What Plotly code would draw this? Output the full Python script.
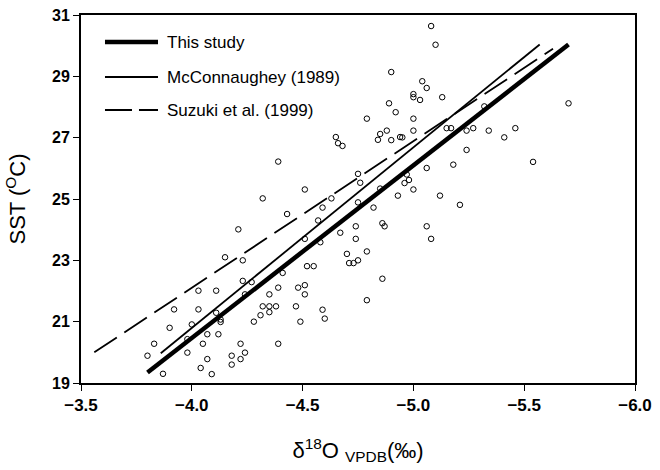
import plotly.graph_objects as go

# Observed δ18O (VPDB, ‰) and SST (°C) data points
d18o_obs = [
    -4.32, -4.21, -4.15, -4.23, -4.23, -4.27, -4.03, -4.11, -4.24, -4.35,
    -3.92, -4.03, -4.11, -4.32, -4.35, -4.38, -4.35, -4.31, -4.28, -3.90,
    -4.00, -4.13, -4.13, -4.07, -4.12, -3.98, -3.83, -4.05, -4.22, -3.80,
    -3.98, -4.07, -4.18, -4.24, -4.22, -4.18, -4.04, -3.87, -4.09,
    -4.51, -4.63, -4.59, -4.43, -4.75, -4.82, -4.93, -5.00, -4.57, -4.51,
    -4.58, -4.67, -4.74, -4.74, -4.86, -4.87, -4.79, -4.70, -4.71, -4.73,
    -4.75, -4.41, -4.52, -4.55, -4.39, -4.48, -4.51, -4.51, -4.86, -4.47,
    -4.59, -4.60, -4.49, -4.79, -4.39,
    -5.12, -5.21, -5.06, -5.08, -5.06, -5.18, -5.24, -5.54,
    -5.08, -5.10, -5.04, -5.06, -5.00, -5.00, -5.03, -5.13, -5.00, -5.32,
    -5.00, -5.15, -5.17, -5.24, -5.27, -5.34, -5.41, -5.46, -4.90, -4.89,
    -4.92, -4.79, -4.88, -4.85, -4.84, -4.90, -4.94, -4.95, -5.70, -4.65,
    -4.66, -4.68, -4.39, -4.75, -4.76, -4.97, -4.98, -4.96, -4.85,
]
sst_obs = [
    25.02, 24.01, 23.10, 23.00, 22.33, 22.29, 22.01, 22.01, 21.89, 21.89,
    21.40, 21.40, 21.29, 21.50, 21.50, 21.50, 21.31, 21.21, 21.00, 20.80,
    20.91, 21.07, 20.99, 20.59, 20.59, 20.43, 20.28, 20.28, 20.28, 19.89,
    19.99, 19.78, 19.89, 19.99, 19.78, 19.60, 19.49, 19.30, 19.29,
    25.31, 25.02, 24.72, 24.51, 24.89, 24.72, 25.11, 25.31, 24.30, 23.70,
    23.59, 23.90, 24.11, 23.70, 24.21, 24.11, 23.29, 23.21, 22.91, 22.91,
    23.00, 22.59, 22.81, 22.81, 22.11, 22.11, 22.19, 21.89, 22.40, 21.50,
    21.39, 21.10, 21.00, 21.70, 20.28,
    25.11, 24.81, 24.11, 23.70, 26.01, 26.12, 26.60, 26.21,
    30.64, 30.03, 28.84, 28.62, 28.42, 28.32, 28.23, 28.32, 27.62, 28.02,
    27.23, 27.31, 27.31, 27.23, 27.31, 27.23, 27.01, 27.31, 29.14, 28.12,
    27.83, 27.62, 27.23, 27.12, 26.93, 26.92, 27.02, 27.01, 28.12, 27.02,
    26.82, 26.73, 26.22, 25.82, 25.53, 25.80, 25.62, 25.52, 25.34,
]

# Calibration lines (end points)
this_study_x = [-3.80, -5.70]
this_study_y = [19.34, 30.04]
mcconnaughey_x = [-3.86, -5.57]
mcconnaughey_y = [19.97, 30.04]
suzuki_x = [-3.56, -5.63]
suzuki_y = [20.00, 29.90]

x_ticks = [-3.5, -4.0, -4.5, -5.0, -5.5, -6.0]
x_tick_labels = ["\u22123.5", "\u22124.0", "\u22124.5", "\u22125.0", "\u22125.5", "\u22126.0"]
y_ticks = [19, 21, 23, 25, 27, 29, 31]
y_tick_labels = ["19", "21", "23", "25", "27", "29", "31"]

legend_names = ["This study", "McConnaughey (1989)", "Suzuki et al. (1999)"]

FONT = "Liberation Sans, Arial, sans-serif"

fig = go.Figure()
fig.add_trace(go.Scatter(
    x=d18o_obs, y=sst_obs, mode="markers", showlegend=False,
    marker=dict(symbol="circle-open", size=5.5, color="black", line=dict(width=1, color="black")),
))
fig.add_trace(go.Scatter(x=this_study_x, y=this_study_y, mode="lines", showlegend=False,
                         line=dict(color="black", width=4.5)))
fig.add_trace(go.Scatter(x=mcconnaughey_x, y=mcconnaughey_y, mode="lines", showlegend=False,
                         line=dict(color="black", width=1.8)))
fig.add_trace(go.Scatter(x=suzuki_x, y=suzuki_y, mode="lines", showlegend=False,
                         line=dict(color="black", width=1.8, dash="27px,9px")))

# Hand-drawn legend (lines + labels) in the upper left of the plot area
legend_styles = [dict(width=4.5), dict(width=1.8), dict(width=1.8, dash="27px,7px")]
legend_rows = [0.9266, 0.8315, 0.7418]
for name, st, yr in zip(legend_names, legend_styles, legend_rows):
    fig.add_shape(type="line", xref="paper", yref="paper", x0=0.0433, x1=0.139, y0=yr, y1=yr,
                  line=dict(color="black", **st))
    fig.add_annotation(xref="paper", yref="paper", x=0.1516, y=yr, text=name, showarrow=False,
                       xanchor="left", yanchor="middle", font=dict(family=FONT, size=17, color="black"))

fig.update_xaxes(
    range=[-3.5, -6.0], tickvals=x_ticks, ticktext=x_tick_labels,
    ticks="outside", ticklen=6, tickwidth=1, tickcolor="black",
    showline=True, linecolor="black", linewidth=2, mirror=True, showgrid=False, zeroline=False,
    tickfont=dict(family=FONT, size=17, color="black", weight=700),
    title=dict(text="δ<sup>18</sup>O <sub>VPDB</sub>(‰)", font=dict(family=FONT, size=22, color="black"),
               standoff=28),
)
fig.update_yaxes(
    range=[19, 31], tickvals=y_ticks, ticktext=y_tick_labels,
    ticks="outside", ticklen=6, tickwidth=1, tickcolor="black",
    showline=True, linecolor="black", linewidth=2, mirror=True, showgrid=False, zeroline=False,
    tickfont=dict(family=FONT, size=16, color="black", weight=700),
    title=dict(text="SST (<sup>O</sup>C)", font=dict(family=FONT, size=22, color="black"), standoff=20),
)
fig.update_layout(
    width=660, height=470,
    margin=dict(l=81, r=25, t=15, b=87, autoexpand=False),
    plot_bgcolor="white", paper_bgcolor="white",
    font=dict(family=FONT, color="black"),
)
fig.write_html("out.html")
